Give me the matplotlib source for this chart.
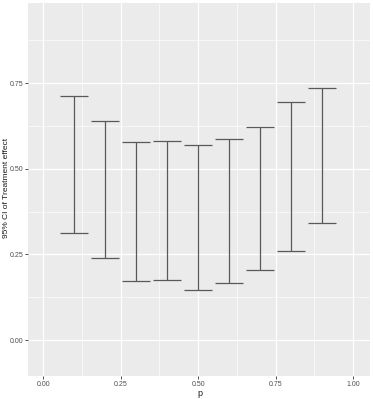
import matplotlib
matplotlib.use("Agg")
import matplotlib.pyplot as plt

plt.rcParams["font.family"] = ["Liberation Sans", "DejaVu Sans"]

# CI bounds
p = [0.1, 0.2, 0.3, 0.4, 0.5, 0.6, 0.7, 0.8, 0.9]
lower = [0.312, 0.239, 0.171, 0.174, 0.145, 0.166, 0.204, 0.259, 0.341]
upper = [0.712, 0.639, 0.577, 0.580, 0.568, 0.586, 0.621, 0.694, 0.735]

xticks = [0.0, 0.25, 0.5, 0.75, 1.0]
yticks = [0.0, 0.25, 0.5, 0.75]

BAR = "#595959"
PANEL = "#EBEBEB"
TXT = "#4D4D4D"

fig = plt.figure(figsize=(3.73, 3.99), dpi=100)
ax = fig.add_axes([28 / 373, 1 - 376 / 399, 342 / 373, 373 / 399])
ax.set_facecolor(PANEL)

cap = 0.045
for x, lo, hi in zip(p, lower, upper):
    ax.plot([x, x], [lo, hi], color=BAR, lw=0.9, solid_capstyle="butt")
    ax.plot([x - cap, x + cap], [lo, lo], color=BAR, lw=0.9, solid_capstyle="butt")
    ax.plot([x - cap, x + cap], [hi, hi], color=BAR, lw=0.9, solid_capstyle="butt")

ax.set_xlim(-0.049, 1.054)
ax.set_ylim(-0.105, 0.984)
ax.set_xticks(xticks)
ax.set_xticklabels(["%.2f" % v for v in xticks])
ax.set_yticks(yticks)
ax.set_yticklabels(["%.2f" % v for v in yticks])
ax.set_xticks([0.125, 0.375, 0.625, 0.875], minor=True)
ax.set_yticks([0.125, 0.375, 0.625, 0.875], minor=True)

ax.grid(True, which="major", color="white", lw=0.9)
ax.grid(True, which="minor", color="white", lw=0.45)
ax.set_axisbelow(True)
for s in ax.spines.values():
    s.set_visible(False)

ax.tick_params(which="major", length=2, width=0.6, color="#333333",
               labelsize=5, labelcolor=TXT, pad=1.5)
ax.tick_params(which="minor", length=0)

ax.set_xlabel("p", fontsize=6.5, color="#1a1a1a", va="center")
ax.xaxis.set_label_coords((200 - 28) / 342, -(393 - 376) / 373)
ax.set_ylabel("95% CI of Treatment effect", fontsize=6, color="#1a1a1a",
              va="center")
ax.yaxis.set_label_coords(-(28 - 6.5) / 342, (376 - 188) / 373)

fig.savefig("out.png", dpi=100)
